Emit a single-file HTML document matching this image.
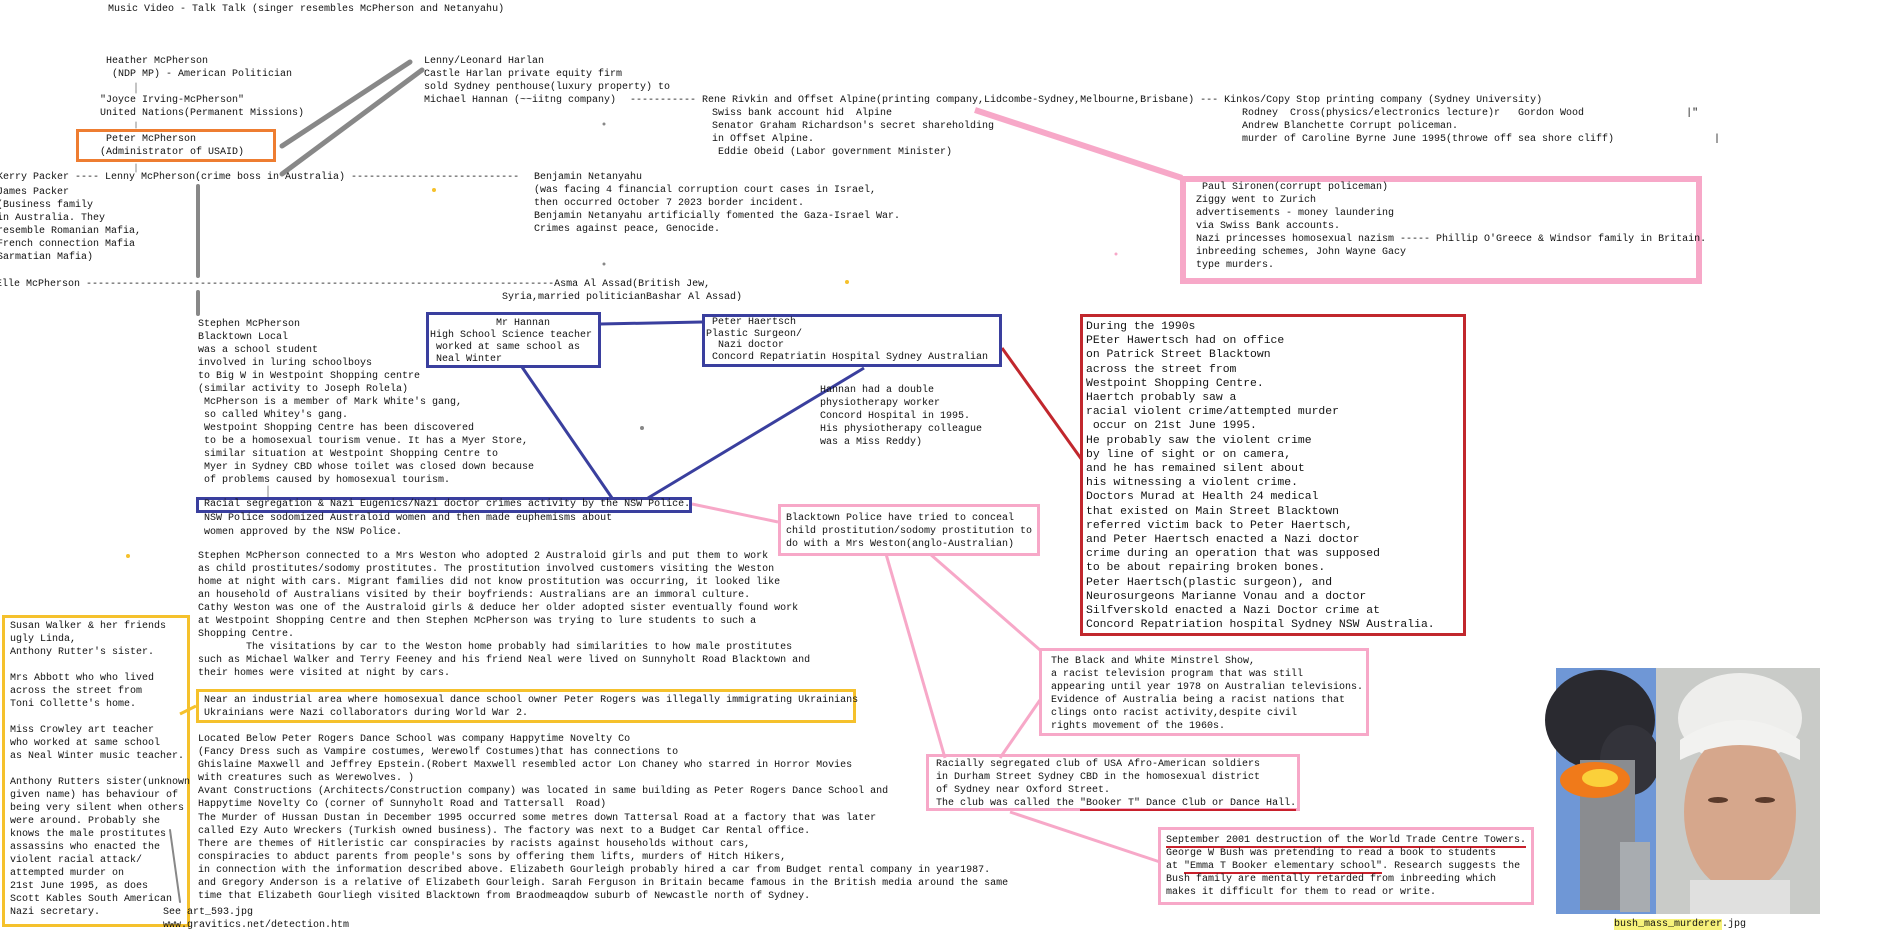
<!DOCTYPE html>
<html><head><meta charset="utf-8"><style>
html,body{margin:0;padding:0;background:#fff;}
body{width:1881px;height:932px;position:relative;overflow:hidden;}
.t{position:absolute;white-space:pre;font-family:"Liberation Mono",monospace;font-size:10px;line-height:13px;color:#111;}
.b{position:absolute;box-sizing:border-box;}
svg{position:absolute;left:0;top:0;}
.u{border-bottom:2px solid #c8202b;}
</style></head><body>
<svg width="1881" height="932">
<g stroke="#888" stroke-linecap="round">
<line x1="282" y1="146" x2="410" y2="62" stroke-width="5"/>
<line x1="282" y1="174" x2="422" y2="70" stroke-width="5"/>
<line x1="198" y1="186" x2="198" y2="276" stroke-width="4"/>
<line x1="198" y1="292" x2="198" y2="314" stroke-width="4"/>
<line x1="136" y1="83" x2="136" y2="93" stroke-width="1"/>
<line x1="136" y1="122" x2="136" y2="128" stroke-width="1"/>
<line x1="136" y1="164" x2="136" y2="172" stroke-width="1"/>
<line x1="268" y1="486" x2="268" y2="497" stroke-width="1"/>
<line x1="170" y1="830" x2="180" y2="902" stroke-width="2"/>
</g>
<g stroke="#3a3f9e" stroke-width="3">
<line x1="600" y1="324" x2="702" y2="322"/>
<line x1="522" y1="367" x2="612" y2="498"/>
<line x1="864" y1="368" x2="648" y2="498"/>
</g>
<line x1="1002" y1="348" x2="1082" y2="460" stroke="#c1272d" stroke-width="3"/>
<g stroke="#f7a8c8">
<line x1="975" y1="110" x2="1182" y2="178" stroke-width="6"/>
<line x1="692" y1="504" x2="778" y2="522" stroke-width="3"/>
<line x1="886" y1="554" x2="945" y2="758" stroke-width="3"/>
<line x1="1040" y1="700" x2="1000" y2="758" stroke-width="3"/>
<line x1="930" y1="554" x2="1040" y2="650" stroke-width="3"/>
<line x1="1010" y1="812" x2="1160" y2="862" stroke-width="3"/>
</g>
<line x1="180" y1="714" x2="196" y2="706" stroke="#f5c12c" stroke-width="3"/>
<g>
<circle cx="434" cy="190" r="2" fill="#f5c12c"/>
<circle cx="847" cy="282" r="2" fill="#f5c12c"/>
<circle cx="128" cy="556" r="2" fill="#f5c12c"/>
<circle cx="604" cy="124" r="1.5" fill="#888"/>
<circle cx="604" cy="264" r="1.5" fill="#888"/>
<circle cx="642" cy="428" r="2" fill="#888"/>
<circle cx="1116" cy="254" r="1.5" fill="#f7a8c8"/>
</g>
<g>
<rect x="1556" y="668" width="264" height="246" fill="#cfd3d2"/>
<rect x="1556" y="668" width="100" height="246" fill="#6f97d6"/>
<ellipse cx="1600" cy="720" rx="55" ry="50" fill="#2a2a30"/>
<ellipse cx="1630" cy="760" rx="30" ry="35" fill="#33333a"/>
<rect x="1580" y="760" width="55" height="150" fill="#8a8c90"/>
<ellipse cx="1595" cy="780" rx="35" ry="18" fill="#f07a1a"/>
<ellipse cx="1600" cy="778" rx="18" ry="9" fill="#fbd03a"/>
<rect x="1620" y="842" width="30" height="70" fill="#a8acb0"/>
<rect x="1656" y="668" width="164" height="246" fill="#c9cbc8"/>
<ellipse cx="1740" cy="718" rx="62" ry="45" fill="#eeeeec"/>
<ellipse cx="1740" cy="812" rx="56" ry="80" fill="#d6a78c"/>
<path d="M1680 740 Q1740 700 1800 740 L1800 760 Q1740 730 1680 760 Z" fill="#f2f2f0"/>
<ellipse cx="1718" cy="800" rx="10" ry="3" fill="#5a3a2a"/>
<ellipse cx="1765" cy="800" rx="10" ry="3" fill="#5a3a2a"/>
<rect x="1690" y="880" width="100" height="34" fill="#e0e0df"/>
</g>
</svg>

<div class="t" style="left:108px;top:3px">Music Video - Talk Talk (singer resembles McPherson and Netanyahu)</div>
<div class="t" style="left:106px;top:55px">Heather McPherson
 (NDP MP) - American Politician</div>
<div class="t" style="left:100px;top:94px">"Joyce Irving-McPherson"
United Nations(Permanent Missions)</div>
<div class="b" style="left:76px;top:129px;width:200px;height:33px;border:3px solid #ee7d31"></div>
<div class="t" style="left:106px;top:133px">Peter McPherson</div>
<div class="t" style="left:100px;top:146px">(Administrator of USAID)</div>

<div class="t" style="left:424px;top:55px">Lenny/Leonard Harlan
Castle Harlan private equity firm
sold Sydney penthouse(luxury property) to
Michael Hannan (~~iitng company)</div>
<div class="t" style="left:630px;top:94px">----------- Rene Rivkin and Offset Alpine(printing company,Lidcombe-Sydney,Melbourne,Brisbane) --- Kinkos/Copy Stop printing company (Sydney University)</div>
<div class="t" style="left:712px;top:107px">Swiss bank account hid  Alpine
Senator Graham Richardson's secret shareholding
in Offset Alpine.
 Eddie Obeid (Labor government Minister)</div>
<div class="t" style="left:1242px;top:107px">Rodney  Cross(physics/electronics lecture)r   Gordon Wood                 |"
Andrew Blanchette Corrupt policeman.
murder of Caroline Byrne June 1995(throwe off sea shore cliff)</div>
<div class="t" style="left:1714px;top:133px">|</div>

<div class="t" style="left:-3px;top:171px">Kerry Packer ---- Lenny McPherson(crime boss in Australia) ----------------------------</div>
<div class="t" style="left:-3px;top:186px">James Packer
(Business family
in Australia. They
resemble Romanian Mafia,
French connection Mafia
Sarmatian Mafia)</div>
<div class="t" style="left:534px;top:171px">Benjamin Netanyahu
(was facing 4 financial corruption court cases in Israel,
then occurred October 7 2023 border incident.
Benjamin Netanyahu artificially fomented the Gaza-Israel War.
Crimes against peace, Genocide.</div>

<div class="t" style="left:-4px;top:278px">Elle McPherson ------------------------------------------------------------------------------Asma Al Assad(British Jew,</div>
<div class="t" style="left:502px;top:291px">Syria,married politicianBashar Al Assad)</div>

<div class="t" style="left:198px;top:318px">Stephen McPherson
Blacktown Local
was a school student
involved in luring schoolboys
to Big W in Westpoint Shopping centre
(similar activity to Joseph Rolela)
 McPherson is a member of Mark White's gang,
 so called Whitey's gang.
 Westpoint Shopping Centre has been discovered
 to be a homosexual tourism venue. It has a Myer Store,
 similar situation at Westpoint Shopping Centre to
 Myer in Sydney CBD whose toilet was closed down because
 of problems caused by homosexual tourism.</div>

<div class="b" style="left:426px;top:312px;width:175px;height:56px;border:3px solid #3a3f9e"></div>
<div class="t" style="left:430px;top:318px;line-height:12px">           Mr Hannan
High School Science teacher
 worked at same school as
 Neal Winter</div>
<div class="b" style="left:702px;top:314px;width:300px;height:53px;border:3px solid #3a3f9e"></div>
<div class="t" style="left:706px;top:317px;line-height:11.5px"> Peter Haertsch
Plastic Surgeon/
  Nazi doctor
 Concord Repatriatin Hospital Sydney Australian</div>
<div class="t" style="left:820px;top:384px">Hannan had a double
physiotherapy worker
Concord Hospital in 1995.
His physiotherapy colleague
was a Miss Reddy)</div>

<div class="b" style="left:1080px;top:314px;width:386px;height:322px;border:3px solid #c1272d"></div>
<div class="t" style="left:1086px;top:320px;font-size:11.4px;line-height:14.2px">During the 1990s
PEter Hawertsch had on office
on Patrick Street Blacktown
across the street from
Westpoint Shopping Centre.
Haertch probably saw a
racial violent crime/attempted murder
 occur on 21st June 1995.
He probably saw the violent crime
by line of sight or on camera,
and he has remained silent about
his witnessing a violent crime.
Doctors Murad at Health 24 medical
that existed on Main Street Blacktown
referred victim back to Peter Haertsch,
and Peter Haertsch enacted a Nazi doctor
crime during an operation that was supposed
to be about repairing broken bones.
Peter Haertsch(plastic surgeon), and
Neurosurgeons Marianne Vonau and a doctor
Silfverskold enacted a Nazi Doctor crime at
Concord Repatriation hospital Sydney NSW Australia.</div>

<div class="b" style="left:1180px;top:176px;width:522px;height:108px;border:6px solid #f7a8c8"></div>
<div class="t" style="left:1196px;top:181px"> Paul Sironen(corrupt policeman)
Ziggy went to Zurich
advertisements - money laundering
via Swiss Bank accounts.
Nazi princesses homosexual nazism ----- Phillip O'Greece &amp; Windsor family in Britain.
inbreeding schemes, John Wayne Gacy
type murders.</div>

<div class="b" style="left:196px;top:497px;width:496px;height:16px;border:3px solid #3a3f9e"></div>
<div class="t" style="left:198px;top:498px;line-height:14px"> Racial segregation &amp; Nazi Eugenics/Nazi doctor crimes activity by the NSW Police.
 NSW Police sodomized Australoid women and then made euphemisms about
 women approved by the NSW Police.</div>

<div class="b" style="left:778px;top:504px;width:262px;height:52px;border:3px solid #f7a8c8"></div>
<div class="t" style="left:786px;top:512px">Blacktown Police have tried to conceal
child prostitution/sodomy prostitution to
do with a Mrs Weston(anglo-Australian)</div>

<div class="t" style="left:198px;top:550px">Stephen McPherson connected to a Mrs Weston who adopted 2 Australoid girls and put them to work
as child prostitutes/sodomy prostitutes. The prostitution involved customers visiting the Weston
home at night with cars. Migrant families did not know prostitution was occurring, it looked like
an household of Australians visited by their boyfriends: Australians are an immoral culture.
Cathy Weston was one of the Australoid girls &amp; deduce her older adopted sister eventually found work
at Westpoint Shopping Centre and then Stephen McPherson was trying to lure students to such a
Shopping Centre.
        The visitations by car to the Weston home probably had similarities to how male prostitutes
such as Michael Walker and Terry Feeney and his friend Neal were lived on Sunnyholt Road Blacktown and
their homes were visited at night by cars.</div>

<div class="b" style="left:196px;top:689px;width:660px;height:34px;border:3px solid #f5c12c"></div>
<div class="t" style="left:198px;top:694px"> Near an industrial area where homosexual dance school owner Peter Rogers was illegally immigrating Ukrainians
 Ukrainians were Nazi collaborators during World War 2.</div>

<div class="t" style="left:198px;top:733px;line-height:13.1px">Located Below Peter Rogers Dance School was company Happytime Novelty Co
(Fancy Dress such as Vampire costumes, Werewolf Costumes)that has connections to
Ghislaine Maxwell and Jeffrey Epstein.(Robert Maxwell resembled actor Lon Chaney who starred in Horror Movies
with creatures such as Werewolves. )
Avant Constructions (Architects/Construction company) was located in same building as Peter Rogers Dance School and
Happytime Novelty Co (corner of Sunnyholt Road and Tattersall  Road)
The Murder of Hussan Dustan in December 1995 occurred some metres down Tattersal Road at a factory that was later
called Ezy Auto Wreckers (Turkish owned business). The factory was next to a Budget Car Rental office.
There are themes of Hitleristic car conspiracies by racists against households without cars,
conspiracies to abduct parents from people's sons by offering them lifts, murders of Hitch Hikers,
in connection with the information described above. Elizabeth Gourleigh probably hired a car from Budget rental company in year1987.
and Gregory Anderson is a relative of Elizabeth Gourleigh. Sarah Ferguson in Britain became famous in the British media around the same
time that Elizabeth Gourliegh visited Blacktown from Braodmeaqdow suburb of Newcastle north of Sydney.</div>

<div class="b" style="left:2px;top:615px;width:188px;height:312px;border:3px solid #f5c12c"></div>
<div class="t" style="left:10px;top:620px">Susan Walker &amp; her friends
ugly Linda,
Anthony Rutter's sister.

Mrs Abbott who who lived
across the street from
Toni Collette's home.

Miss Crowley art teacher
who worked at same school
as Neal Winter music teacher.

Anthony Rutters sister(unknown
given name) has behaviour of
being very silent when others
were around. Probably she
knows the male prostitutes
assassins who enacted the
violent racial attack/
attempted murder on
21st June 1995, as does
Scott Kables South American
Nazi secretary.</div>
<div class="t" style="left:163px;top:906px">See art_593.jpg</div>
<div class="t" style="left:163px;top:919px">www.gravitics.net/detection.htm</div>

<div class="b" style="left:1039px;top:648px;width:330px;height:88px;border:3px solid #f7a8c8"></div>
<div class="t" style="left:1051px;top:655px">The Black and White Minstrel Show,
a racist television program that was still
appearing until year 1978 on Australian televisions.
Evidence of Australia being a racist nations that
clings onto racist activity,despite civil
rights movement of the 1960s.</div>

<div class="b" style="left:926px;top:754px;width:374px;height:57px;border:3px solid #f7a8c8"></div>
<div class="t" style="left:936px;top:758px">Racially segregated club of USA Afro-American soldiers
in Durham Street Sydney CBD in the homosexual district
of Sydney near Oxford Street.
The club was called the <span class="u">"Booker T" Dance Club or Dance Hall.</span></div>

<div class="b" style="left:1158px;top:827px;width:376px;height:78px;border:3px solid #f7a8c8"></div>
<div class="t" style="left:1166px;top:834px"><span class="u">September 2001 destruction of the World Trade Centre Towers.</span>
George W Bush was pretending to read a book to students
at <span class="u">"Emma T Booker elementary school"</span>. Research suggests the
Bush family are mentally retarded from inbreeding which
makes it difficult for them to read or write.</div>

<div class="t" style="left:1614px;top:918px"><span style="background:#f7f27a">bush_mass_murderer</span>.jpg</div>
</body></html>
